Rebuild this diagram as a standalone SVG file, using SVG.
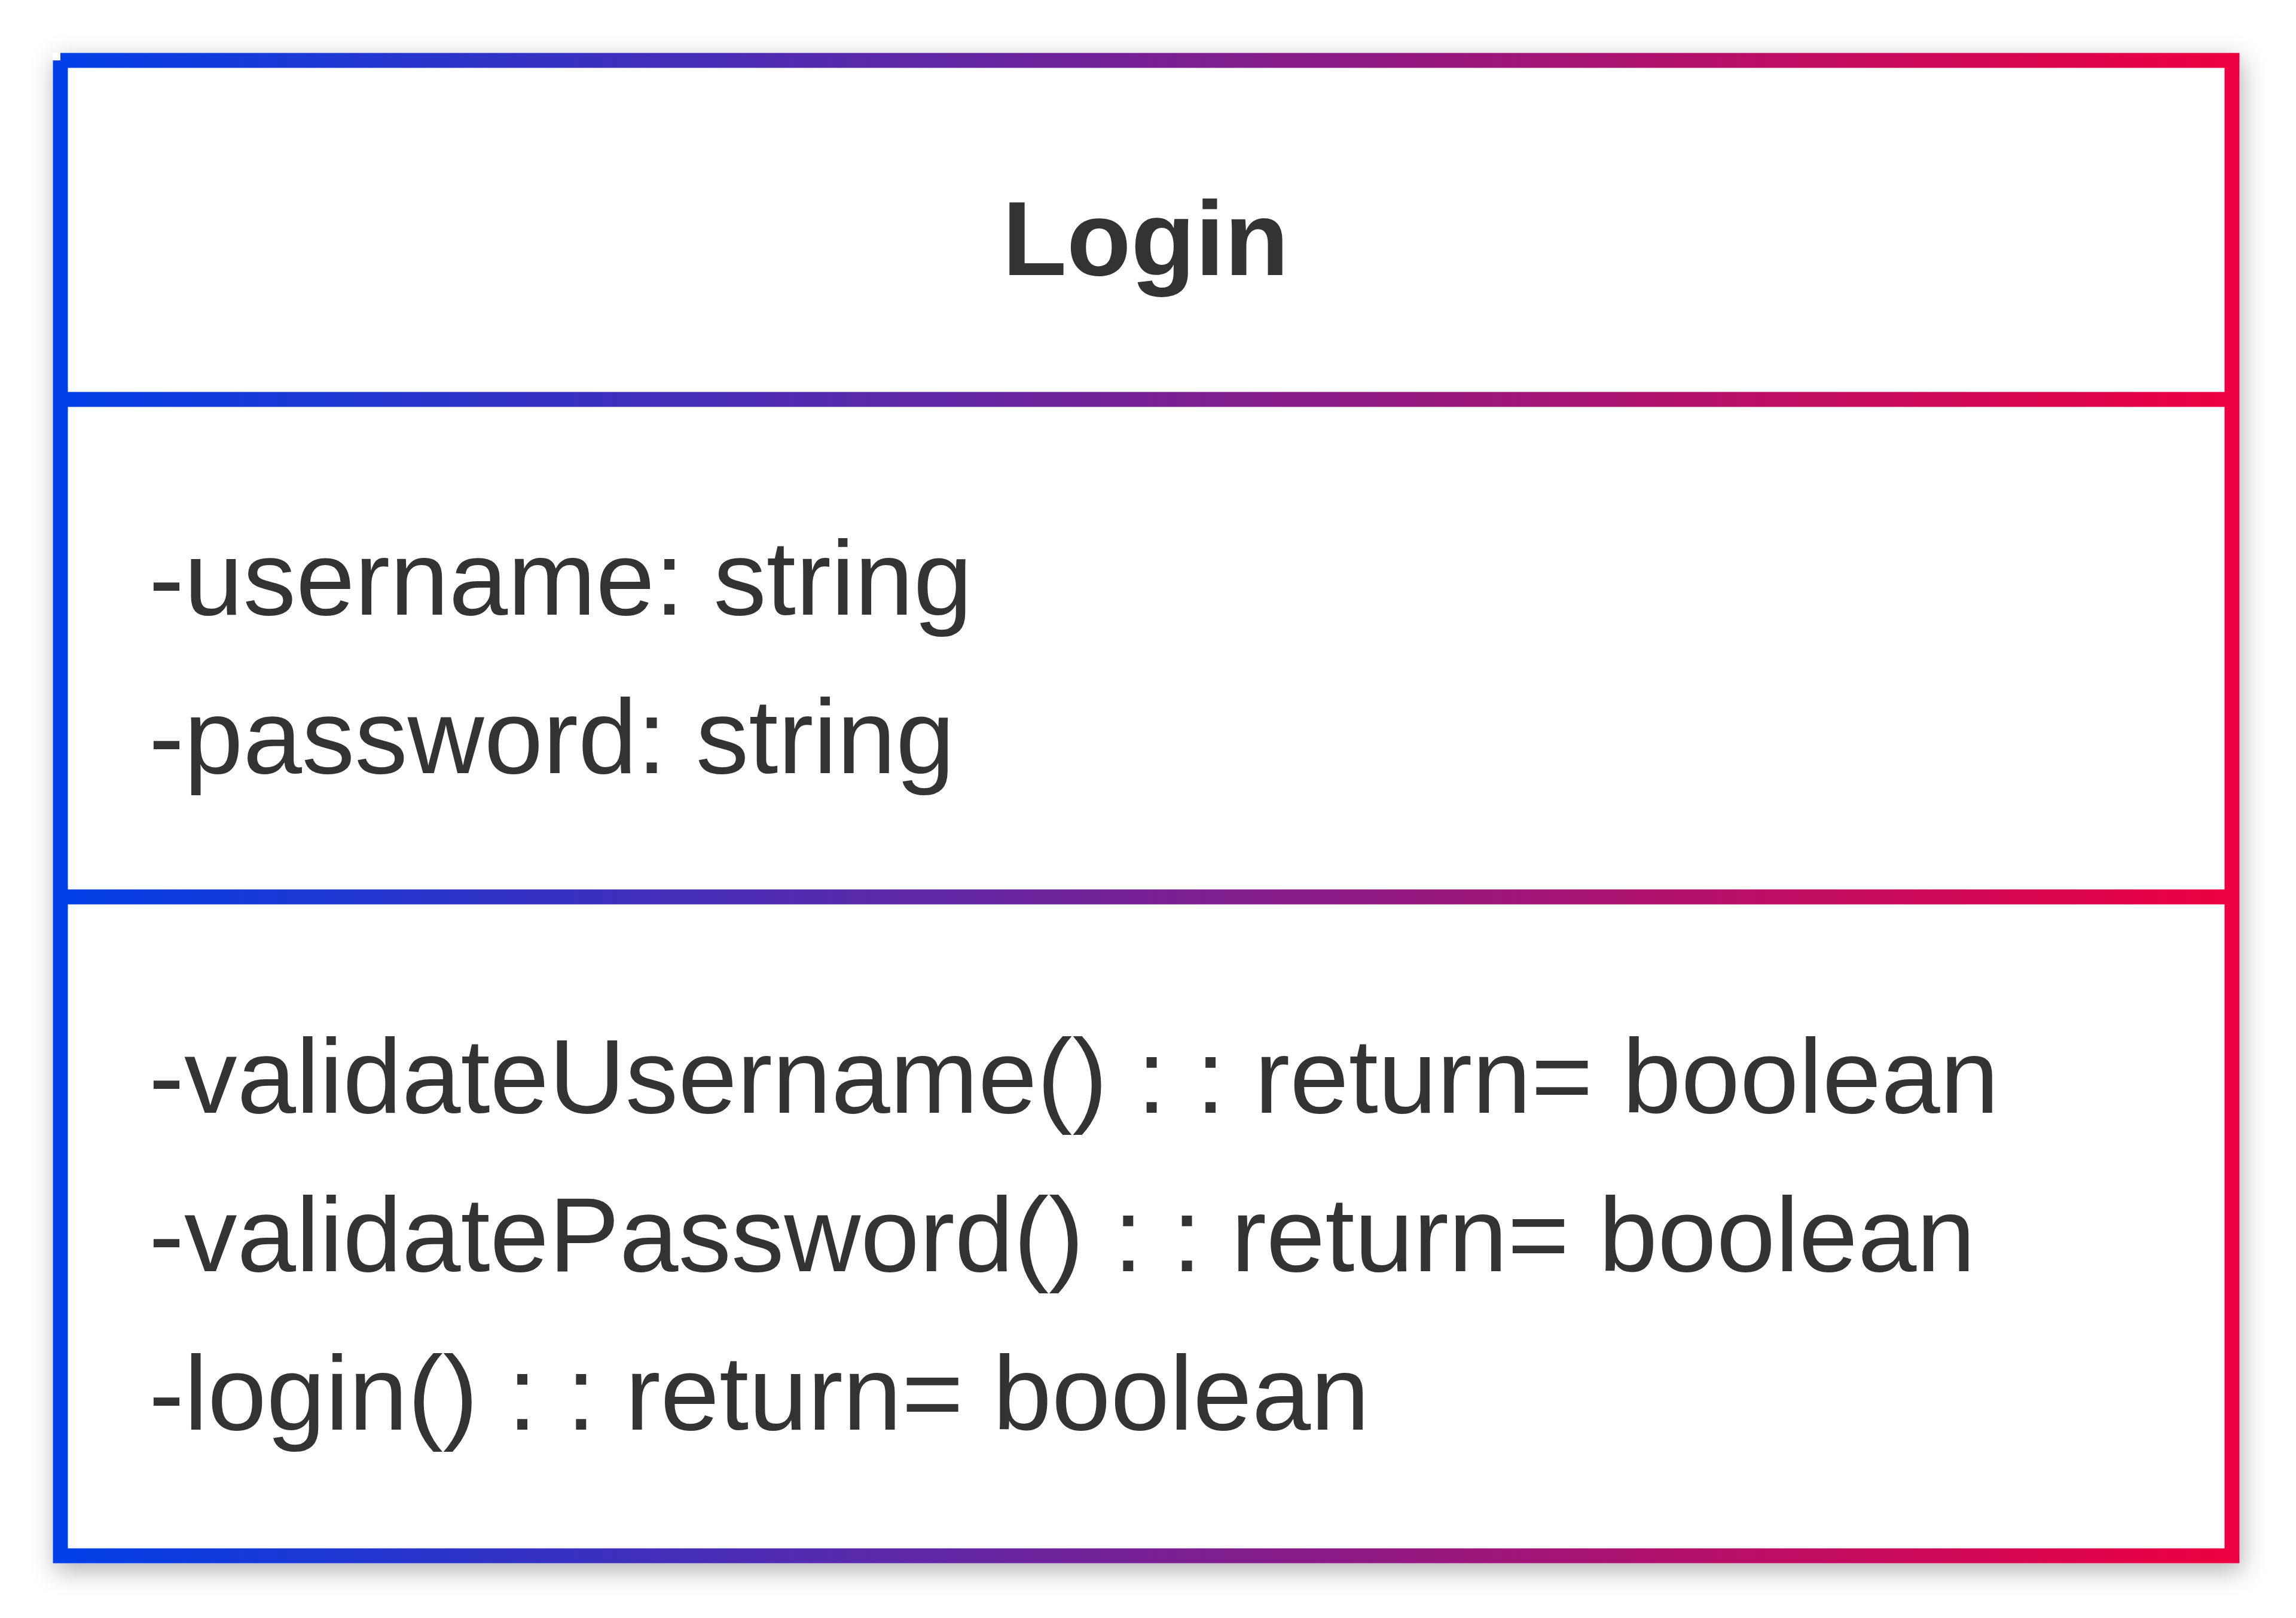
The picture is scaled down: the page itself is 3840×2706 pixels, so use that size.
<svg xmlns="http://www.w3.org/2000/svg" width="3840" height="2706" viewBox="0 0 3840 2706">
<style>
.t{font-family:"Liberation Sans",Arial,sans-serif;fill:#333333;font-size:177px}
.title{font-weight:bold;font-size:176px;text-anchor:middle}
.edge{fill:none;stroke:url(#grad);stroke-width:25}
</style>
<defs>
<linearGradient id="grad" gradientUnits="userSpaceOnUse" x1="88" y1="0" x2="3746" y2="0">
<stop offset="0" stop-color="#0040E8"/>
<stop offset="1" stop-color="#EE0040"/>
</linearGradient>
<filter id="shadow" x="-5%" y="-5%" width="110%" height="115%">
<feDropShadow dx="4" dy="12" stdDeviation="20" flood-color="#000000" flood-opacity="0.3"/>
</filter>
</defs>
<rect width="3840" height="2706" fill="#ffffff"/>
<g id="node-Login">
<rect x="88" y="88" width="3658" height="2527" fill="#ffffff" filter="url(#shadow)"/>
<path class="edge" d="M101,101 H3733 V2602 H101 V101"/>
<line class="edge" x1="101" y1="668" x2="3733" y2="668"/>
<line class="edge" x1="101" y1="1500" x2="3733" y2="1500"/>
<text class="t title" x="1916" y="460">Login</text>
<text class="t" x="249" y="1028">-username: string</text>
<text class="t" x="249" y="1293">-password: string</text>
<text class="t" x="249" y="1861">-validateUsername() : : return= boolean</text>
<text class="t" x="249" y="2126">-validatePassword() : : return= boolean</text>
<text class="t" x="249" y="2391">-login() : : return= boolean</text>
</g>
<g id="connectors"/>
</svg>
